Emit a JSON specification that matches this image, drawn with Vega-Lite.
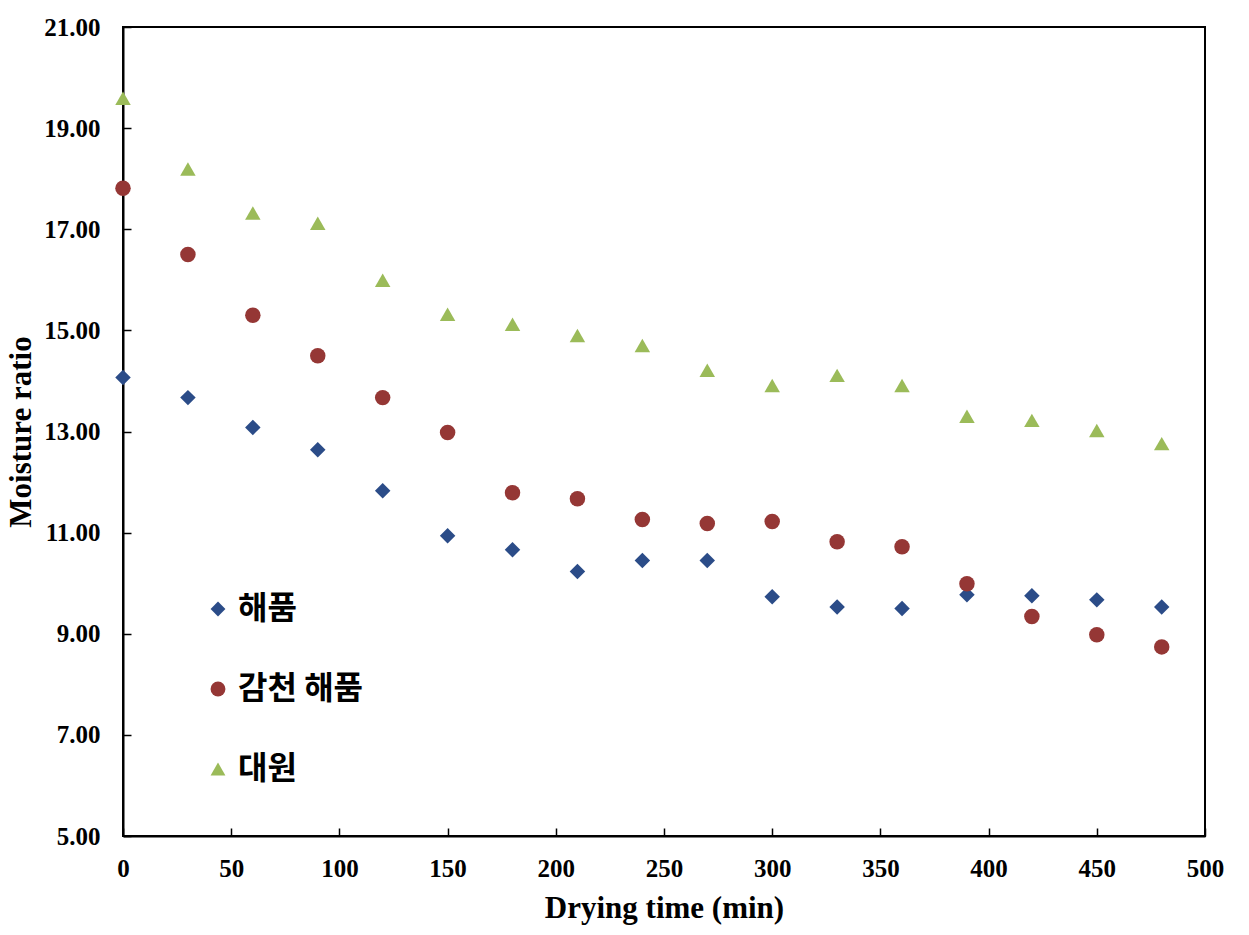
{
  "$schema": "https://vega.github.io/schema/vega-lite/v6.json",
  "width": 1082,
  "height": 809,
  "autosize": {"type": "none"},
  "padding": {"left": 123, "top": 27, "right": 44, "bottom": 99},
  "background": "white",
  "config": {
    "view": {"stroke": "black", "strokeWidth": 2},
    "axis": {
      "labelFont": "Liberation Serif",
      "labelFontWeight": "bold",
      "labelFontSize": 25,
      "labelColor": "black",
      "labelFlush": false,
      "labelOverlap": false,
      "titleFont": "Liberation Serif",
      "titleFontWeight": "bold",
      "titleFontSize": 31,
      "titleColor": "black",
      "domainColor": "black",
      "domainWidth": 2,
      "tickColor": "black",
      "tickWidth": 1.5,
      "grid": false
    }
  },
  "data": {
    "values": [
      {"s": "해품", "t": 0, "v": 14.07},
      {"s": "해품", "t": 30, "v": 13.67},
      {"s": "해품", "t": 60, "v": 13.08},
      {"s": "해품", "t": 90, "v": 12.64},
      {"s": "해품", "t": 120, "v": 11.83},
      {"s": "해품", "t": 150, "v": 10.94},
      {"s": "해품", "t": 180, "v": 10.66},
      {"s": "해품", "t": 210, "v": 10.23},
      {"s": "해품", "t": 240, "v": 10.45},
      {"s": "해품", "t": 270, "v": 10.45},
      {"s": "해품", "t": 300, "v": 9.73},
      {"s": "해품", "t": 330, "v": 9.53},
      {"s": "해품", "t": 360, "v": 9.5},
      {"s": "해품", "t": 390, "v": 9.77},
      {"s": "해품", "t": 420, "v": 9.75},
      {"s": "해품", "t": 450, "v": 9.67},
      {"s": "해품", "t": 480, "v": 9.53},
      {"s": "감천 해품", "t": 0, "v": 17.81},
      {"s": "감천 해품", "t": 30, "v": 16.5},
      {"s": "감천 해품", "t": 60, "v": 15.3},
      {"s": "감천 해품", "t": 90, "v": 14.5},
      {"s": "감천 해품", "t": 120, "v": 13.67},
      {"s": "감천 해품", "t": 150, "v": 12.98},
      {"s": "감천 해품", "t": 180, "v": 11.79},
      {"s": "감천 해품", "t": 210, "v": 11.67},
      {"s": "감천 해품", "t": 240, "v": 11.26},
      {"s": "감천 해품", "t": 270, "v": 11.18},
      {"s": "감천 해품", "t": 300, "v": 11.22},
      {"s": "감천 해품", "t": 330, "v": 10.82},
      {"s": "감천 해품", "t": 360, "v": 10.72},
      {"s": "감천 해품", "t": 390, "v": 9.99},
      {"s": "감천 해품", "t": 420, "v": 9.34},
      {"s": "감천 해품", "t": 450, "v": 8.98},
      {"s": "감천 해품", "t": 480, "v": 8.74},
      {"s": "대원", "t": 0, "v": 19.59},
      {"s": "대원", "t": 30, "v": 18.19},
      {"s": "대원", "t": 60, "v": 17.32},
      {"s": "대원", "t": 90, "v": 17.12},
      {"s": "대원", "t": 120, "v": 15.99},
      {"s": "대원", "t": 150, "v": 15.32},
      {"s": "대원", "t": 180, "v": 15.12},
      {"s": "대원", "t": 210, "v": 14.9},
      {"s": "대원", "t": 240, "v": 14.7},
      {"s": "대원", "t": 270, "v": 14.21},
      {"s": "대원", "t": 300, "v": 13.91},
      {"s": "대원", "t": 330, "v": 14.11},
      {"s": "대원", "t": 360, "v": 13.91},
      {"s": "대원", "t": 390, "v": 13.3},
      {"s": "대원", "t": 420, "v": 13.22},
      {"s": "대원", "t": 450, "v": 13.02},
      {"s": "대원", "t": 480, "v": 12.76}
    ]
  },
  "mark": {"type": "point", "filled": true, "opacity": 1, "size": 240},
  "encoding": {
    "x": {
      "field": "t",
      "type": "quantitative",
      "title": "Drying time (min)",
      "scale": {"domain": [0, 500], "nice": false, "zero": false},
      "axis": {"values": [0, 50, 100, 150, 200, 250, 300, 350, 400, 450, 500], "tickSize": -8, "labelPadding": 28, "titlePadding": 12}
    },
    "y": {
      "field": "v",
      "type": "quantitative",
      "title": "Moisture ratio",
      "scale": {"domain": [5, 21], "nice": false, "zero": false},
      "axis": {"values": [5, 7, 9, 11, 13, 15, 17, 19, 21], "format": ".2f", "tickSize": -8, "labelPadding": 31, "titlePadding": 6}
    },
    "color": {
      "field": "s",
      "type": "nominal",
      "scale": {"domain": ["해품", "감천 해품", "대원"], "range": ["#2B4C88", "#953735", "#9BBB59"]},
      "legend": {
        "title": null,
        "orient": "none",
        "legendX": 79,
        "legendY": 566,
        "labelFont": "Noto Sans CJK KR",
        "labelFontWeight": "bold",
        "labelFontSize": 32,
        "labelColor": "black",
        "rowPadding": 48,
        "labelOffset": 4,
        "symbolSize": 220,
        "symbolOpacity": 1
      }
    },
    "shape": {
      "field": "s",
      "type": "nominal",
      "scale": {"domain": ["해품", "감천 해품", "대원"], "range": ["diamond", "circle", "triangle-up"]},
      "legend": null
    }
  }
}
